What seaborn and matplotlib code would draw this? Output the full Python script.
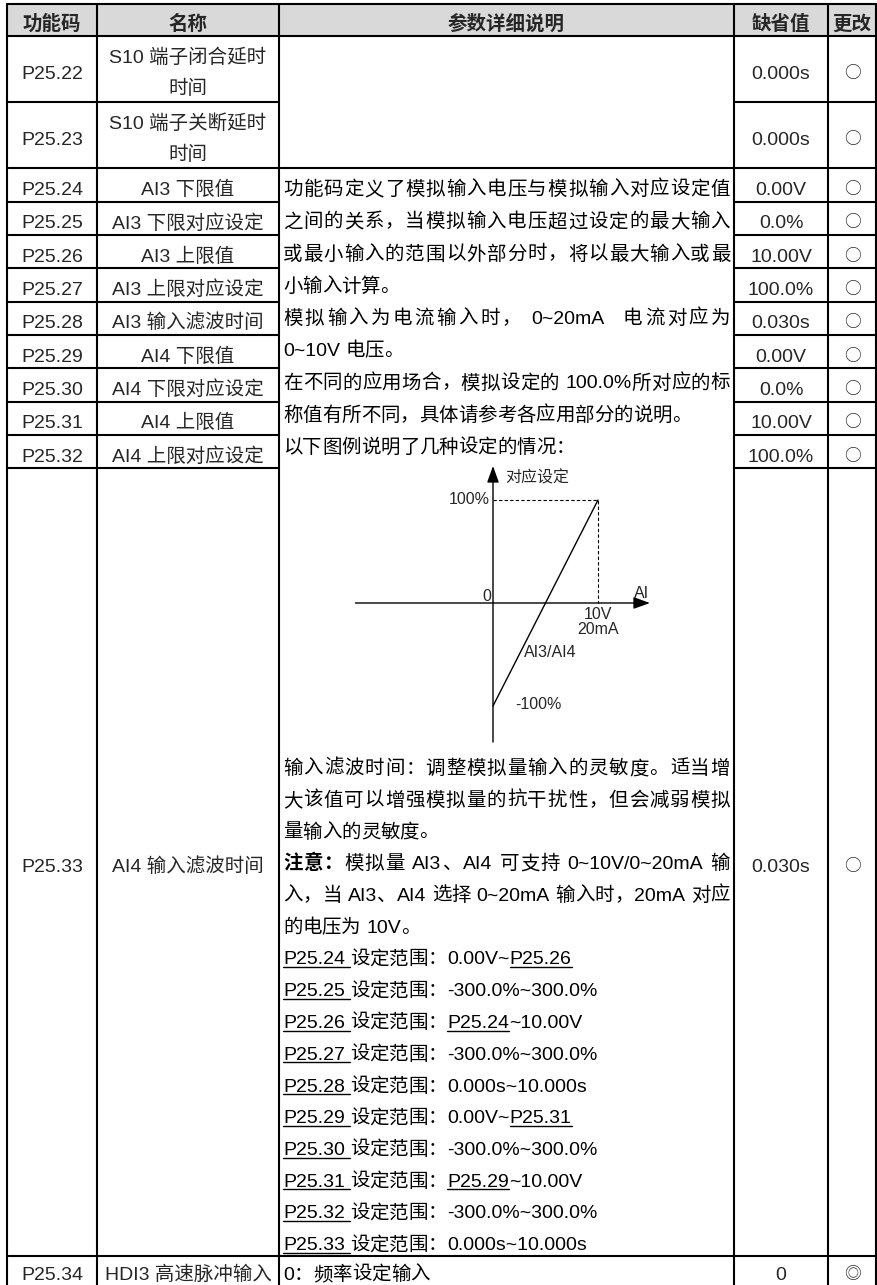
import seaborn as sns
import matplotlib.pyplot as plt
from matplotlib.font_manager import FontProperties, findfont, get_font

sns.set_theme(style='white')
plt.rcParams['font.family'] = ['Liberation Sans', 'Noto Sans CJK SC']

# ---- table content ----
headers = ['功能码', '名称', '参数详细说明', '缺省值', '更改']
codes = ['P25.22', 'P25.23', 'P25.24', 'P25.25', 'P25.26', 'P25.27', 'P25.28',
         'P25.29', 'P25.30', 'P25.31', 'P25.32', 'P25.33', 'P25.34']
names = [['S10 端子闭合延时', '时间'], ['S10 端子关断延时', '时间'],
         ['AI3 下限值'], ['AI3 下限对应设定'], ['AI3 上限值'], ['AI3 上限对应设定'],
         ['AI3 输入滤波时间'], ['AI4 下限值'], ['AI4 下限对应设定'], ['AI4 上限值'],
         ['AI4 上限对应设定'], ['AI4 输入滤波时间'], ['HDI3 高速脉冲输入']]
defaults = ['0.000s', '0.000s', '0.00V', '0.0%', '10.00V', '100.0%', '0.030s',
            '0.00V', '0.0%', '10.00V', '100.0%', '0.030s', '0']
modify = ['○'] * 12 + ['◎']

# description text (segments: text, style  n=normal b=bold u=underline), justify flag
desc_top = [
    ([('功能码定义了模拟输入电压与模拟输入对应设定值', 'n')], True),
    ([('之间的关系，当模拟输入电压超过设定的最大输入', 'n')], True),
    ([('或最小输入的范围以外部分时，将以最大输入或最', 'n')], True),
    ([('小输入计算。', 'n')], False),
    ([('模拟输入为电流输入时， 0~20mA  电流对应为', 'n')], True),
    ([('0~10V 电压。', 'n')], False),
    ([('在不同的应用场合，模拟设定的 100.0%所对应的标', 'n')], True),
    ([('称值有所不同，具体请参考各应用部分的说明。', 'n')], False),
    ([('以下图例说明了几种设定的情况：', 'n')], False),
]
ranges = [('P25.24', '0.00V~', 'P25.26', ''), ('P25.25', '-300.0%~300.0%', '', ''),
          ('P25.26', '', 'P25.24', '~10.00V'), ('P25.27', '-300.0%~300.0%', '', ''),
          ('P25.28', '0.000s~10.000s', '', ''), ('P25.29', '0.00V~', 'P25.31', ''),
          ('P25.30', '-300.0%~300.0%', '', ''), ('P25.31', '', 'P25.29', '~10.00V'),
          ('P25.32', '-300.0%~300.0%', '', ''), ('P25.33', '0.000s~10.000s', '', '')]
desc_bottom = [
    ([('输入滤波时间：调整模拟量输入的灵敏度。适当增', 'n')], True),
    ([('大该值可以增强模拟量的抗干扰性，但会减弱模拟', 'n')], True),
    ([('量输入的灵敏度。', 'n')], False),
    ([('注意：', 'b'), ('模拟量 AI3、AI4 可支持 0~10V/0~20mA 输', 'n')], True),
    ([('入，当 AI3、AI4 选择 0~20mA 输入时，20mA 对应', 'n')], True),
    ([('的电压为 10V。', 'n')], False),
]
for code, a, ref, b in ranges:
    desc_bottom.append(([(code + ' ', 'u'), ('设定范围：' + a, 'n'), (ref, 'u'), (b, 'n')], False))
last_row_desc = [('0：频率设定输入', 'n')]

# diagram data (AI input in V, setting in %)
ai_x = [0, 10]
ai_y = [-100, 100]
guide_x = [0, 10, 10]
guide_y = [100, 100, 0]

# ---- layout ----
W, H = 877, 1285
FS = 14.0
EM = FS * 100 / 72
col_edges = [7, 97, 279, 734, 828, 876]
row_edges = [4, 36, 102, 168, 202, 235, 268, 302, 335, 368, 402, 435, 468, 1256, 1284]
TX0, TX1 = 283, 730

fig = plt.figure(figsize=(W / 100, H / 100), dpi=100)
ax = fig.add_axes([0, 0, 1, 1])
ax.set_xlim(0, W)
ax.set_ylim(H, 0)
ax.set_axis_off()

latin = get_font(findfont(FontProperties(family='Liberation Sans')))


def advance(unit):
    if all(ord(c) < 128 for c in unit):
        latin.set_size(FS, 100)
        return sum(latin.load_char(ord(c)).linearHoriAdvance / 65536 for c in unit)
    return EM


def draw_line(yc, segs, justify):
    units = []
    for si, (text, style) in enumerate(segs):
        buf = ''
        for ch in text:
            if ord(ch) < 128 and ch != ' ':
                buf += ch
            else:
                if buf:
                    units.append((buf, style, si))
                    buf = ''
                units.append((ch, style, si))
        if buf:
            units.append((buf, style, si))
    ws = [advance(u[0]) for u in units]
    gap = 0
    if justify and len(units) > 1:
        gap = (TX1 - TX0 - sum(ws)) / (len(units) - 1)
    x = TX0
    base = yc + 7
    spans = {}
    for (u, style, si), w in zip(units, ws):
        if u != ' ':
            ax.text(x, base, u, ha='left', va='baseline', fontsize=FS,
                    fontweight='bold' if style == 'b' else 'normal', color='black')
        if style == 'u':
            s0, _ = spans.get(si, (x, x))
            spans[si] = (s0, x + w)
        x += w + gap
    for s0, s1 in spans.values():
        ax.plot([s0, s1], [base + 2.5, base + 2.5], color='black', lw=1.0)


# header background
ax.fill_between([col_edges[0], col_edges[-1]], row_edges[0], row_edges[1], color='#d9d9d9', lw=0)

# grid lines
lw = 1.5
for x in col_edges:
    ax.plot([x, x], [row_edges[0], H + 5], color='black', lw=lw)
for y in row_edges[:-1]:
    ax.plot([col_edges[0], col_edges[2]], [y, y], color='black', lw=lw)
    ax.plot([col_edges[3], col_edges[-1]], [y, y], color='black', lw=lw)
for y in [row_edges[0], row_edges[1], row_edges[3], row_edges[13]]:
    ax.plot([col_edges[2], col_edges[3]], [y, y], color='black', lw=lw)

col_c = [(col_edges[i] + col_edges[i + 1]) / 2 for i in range(5)]

# header text
for c, h in zip(col_c, headers):
    ax.text(c, (row_edges[0] + row_edges[1]) / 2 + 10, h, ha='center', va='baseline',
            fontsize=FS, fontweight='bold')

# rows
for i in range(len(codes)):
    yc = (row_edges[i + 1] + row_edges[i + 2]) / 2 + 3
    ax.text(col_c[0], yc + 7, codes[i], ha='center', va='baseline', fontsize=FS)
    if len(names[i]) == 2:
        ax.text(col_c[1], yc - 16 + 7, names[i][0], ha='center', va='baseline', fontsize=FS)
        ax.text(col_c[1], yc + 15 + 7, names[i][1], ha='center', va='baseline', fontsize=FS)
    else:
        ax.text(col_c[1], yc + 7, names[i][0], ha='center', va='baseline', fontsize=FS)
    ax.text(col_c[3], yc + 7, defaults[i], ha='center', va='baseline', fontsize=FS)
    ax.text(col_c[4], yc + 6, modify[i], ha='center', va='baseline', fontsize=FS - 2,
            family=['Noto Sans CJK SC'])

# description column
for k, (segs, just) in enumerate(desc_top):
    draw_line(188 + 32.25 * k, segs, just)
for k, (segs, just) in enumerate(desc_bottom):
    draw_line(767 + 31.75 * k, segs, just)
draw_line(1273, last_row_desc, False)

# ---- inset diagram ----
px0, px1, py0, py1 = 340, 660, 455, 748
ox, oy, sx, sy = 493, 603, 10.5, 1.03
dax = fig.add_axes([px0 / W, 1 - py1 / H, (px1 - px0) / W, (py1 - py0) / H])
dax.set_xlim((px0 - ox) / sx, (px1 - ox) / sx)
dax.set_ylim((oy - py1) / sy, (oy - py0) / sy)
dax.set_axis_off()

arrow = dict(arrowstyle='-|>,head_length=1.0,head_width=0.36', color='black', lw=1.0,
             shrinkA=0, shrinkB=0, mutation_scale=10)
dax.annotate('', xy=(14.95, 0), xytext=(-13.1, 0), arrowprops=arrow)
dax.annotate('', xy=(0, 133), xytext=(0, -135), arrowprops=arrow)
sns.lineplot(x=guide_x, y=guide_y, ax=dax, sort=False, estimator=None, color='black',
             lw=0.8, linestyle=(0, (3, 2)))
sns.lineplot(x=ai_x, y=ai_y, ax=dax, sort=False, estimator=None, color='black', lw=1.0)

dfs = 11.5
dax.text(1.14, 122, '对应设定', ha='left', va='center', fontsize=dfs)
dax.text(-0.29, 100, '100%', ha='right', va='center', fontsize=dfs)
dax.text(-0.57, 6, '0', ha='center', va='center', fontsize=dfs)
dax.text(14.1, 9, 'AI', ha='center', va='center', fontsize=dfs)
dax.text(10, -11, '10V', ha='center', va='center', fontsize=dfs)
dax.text(10, -26, '20mA', ha='center', va='center', fontsize=dfs)
dax.text(2.95, -47.6, 'AI3/AI4', ha='left', va='center', fontsize=dfs)
dax.text(2.1, -99, '-100%', ha='left', va='center', fontsize=dfs)

fig.savefig('out.png', dpi=100)
